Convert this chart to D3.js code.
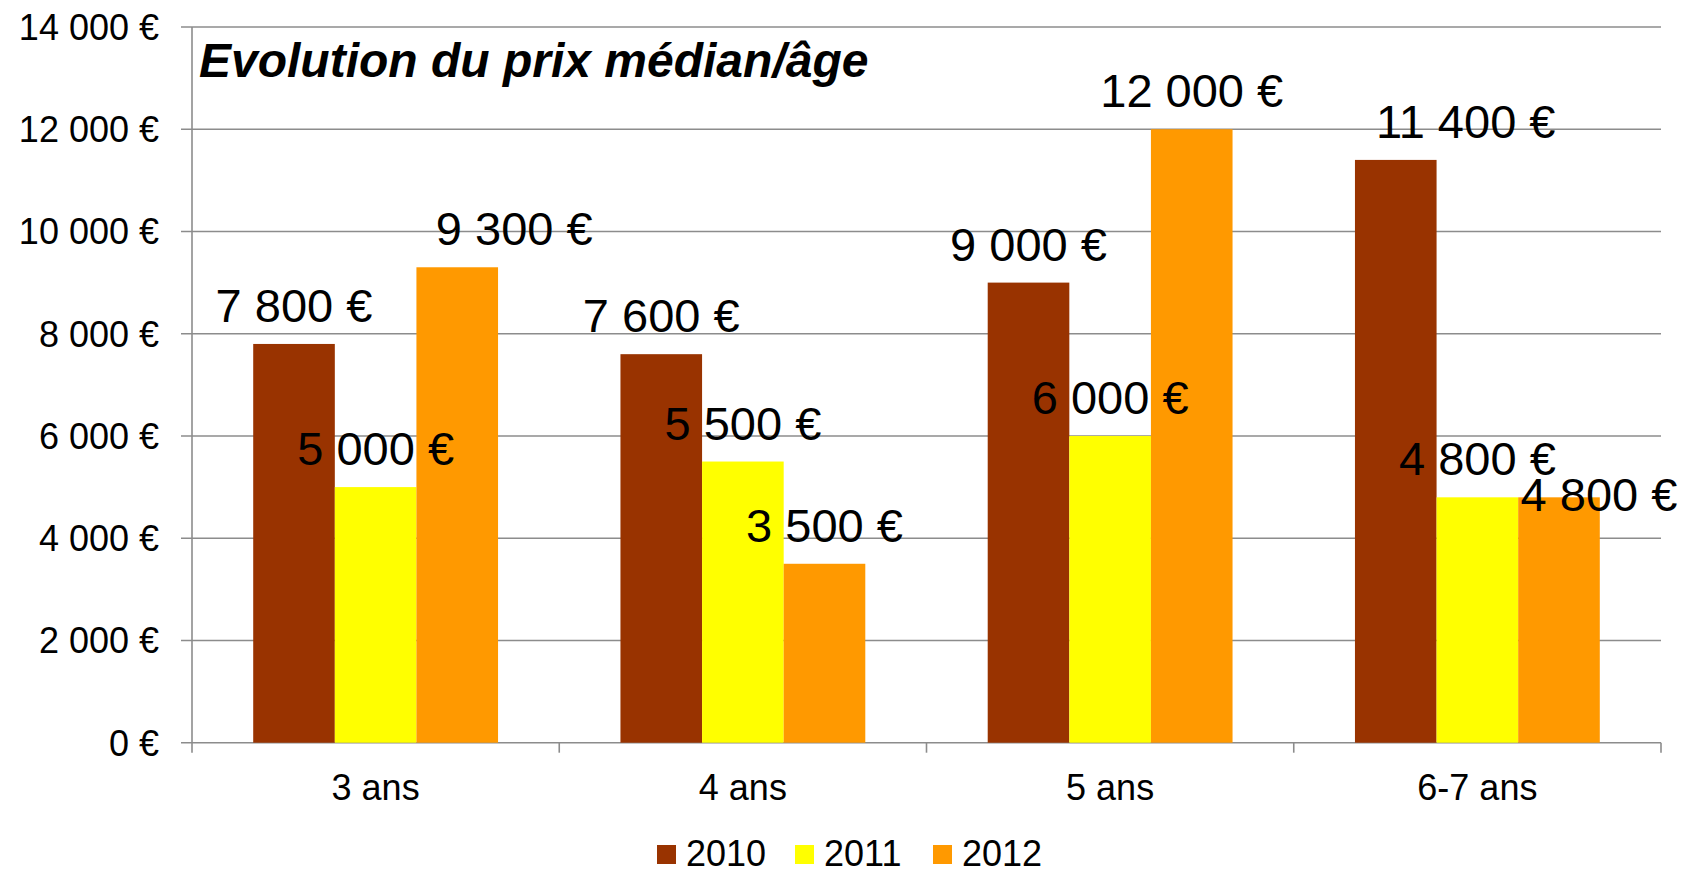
<!DOCTYPE html>
<html lang="fr">
<head>
<meta charset="utf-8">
<style>
  body { margin: 0; background: #fff; }
  svg text { font-family: "Liberation Sans", Arial, sans-serif; fill: #000; }
</style>
</head>
<body>
<div id="chart"></div>
<script src="https://d3js.org/d3.v7.min.js"></script>
<script>
// data
var categories = ["3 ans", "4 ans", "5 ans", "6-7 ans"];
var series = ["2010", "2011", "2012"];
var values2010 = [7800, 7600, 9000, 11400];
var values2011 = [5000, 5500, 6000, 4800];
var values2012 = [9300, 3500, 12000, 4800];
var yTicks = [0, 2000, 4000, 6000, 8000, 10000, 12000, 14000];
var title = "Evolution du prix médian/âge";

var colors = { "2010": "#993300", "2011": "#ffff00", "2012": "#ff9900" };
// some labels were moved by hand in the original
var labelNudge = [
  { s: "2012", c: "3 ans", dx: 57, dy: 0 },
  { s: "2010", c: "6-7 ans", dx: 70, dy: 0 },
  { s: "2012", c: "6-7 ans", dx: 40, dy: 36 }
];

var width = 1696, height = 869;
var plotLeft = 192, plotRight = 1661, plotTop = 27, plotBottom = 742.7;

var rows = categories.map(function(c, i) {
  return { cat: c, vals: [values2010[i], values2011[i], values2012[i]] };
});

var fr = d3.formatLocale({ decimal: ",", thousands: "\u00a0", grouping: [3], currency: ["", "\u00a0€"] });
var euro = fr.format("$,.0f");

var svg = d3.select("#chart").append("svg")
  .attr("width", width)
  .attr("height", height);

var x0 = d3.scaleBand().domain(categories).range([plotLeft, plotRight]).paddingInner(0).paddingOuter(0);
var x1 = d3.scaleBand().domain(series).range([0, x0.bandwidth()]).paddingInner(0).paddingOuter(0.75);
var y = d3.scaleLinear().domain([0, 14000]).range([plotBottom, plotTop]);

// gridlines
svg.append("g").selectAll("line")
  .data(yTicks)
  .enter().append("line")
  .attr("x1", plotLeft - 11).attr("x2", plotRight)
  .attr("y1", function(d) { return y(d); })
  .attr("y2", function(d) { return y(d); })
  .attr("stroke", "#8c8c8c")
  .attr("stroke-width", 1.6);

// y axis line
svg.append("line")
  .attr("x1", plotLeft).attr("x2", plotLeft)
  .attr("y1", plotTop).attr("y2", plotBottom + 10)
  .attr("stroke", "#8c8c8c").attr("stroke-width", 1.6);

// x boundary ticks
var bounds = categories.map(function(c) { return x0(c); }).concat([plotRight]);
svg.append("g").selectAll("line")
  .data(bounds.slice(1))
  .enter().append("line")
  .attr("x1", function(d) { return d; }).attr("x2", function(d) { return d; })
  .attr("y1", plotBottom).attr("y2", plotBottom + 10)
  .attr("stroke", "#8c8c8c").attr("stroke-width", 1.6);

// y tick labels
svg.append("g").selectAll("text")
  .data(yTicks)
  .enter().append("text")
  .attr("x", 159)
  .attr("y", function(d) { return y(d); })
  .attr("dy", "0.36em")
  .attr("text-anchor", "end")
  .style("font-size", "36px")
  .text(function(d) { return euro(d); });

// bars
var groups = svg.append("g").selectAll("g")
  .data(rows)
  .enter().append("g")
  .attr("transform", function(d) { return "translate(" + x0(d.cat) + ",0)"; });

groups.selectAll("rect")
  .data(function(d) { return series.map(function(s, i) { return { s: s, c: d.cat, v: d.vals[i] }; }); })
  .enter().append("rect")
  .attr("x", function(d) { return x1(d.s); })
  .attr("width", x1.bandwidth())
  .attr("y", function(d) { return y(d.v); })
  .attr("height", function(d) { return plotBottom - y(d.v); })
  .attr("fill", function(d) { return colors[d.s]; });

// data labels on top
var labels = [];
rows.forEach(function(r) {
  series.forEach(function(s, i) { labels.push({ s: s, c: r.cat, v: r.vals[i] }); });
});
function nudge(d) {
  var n = labelNudge.find(function(o) { return o.s === d.s && o.c === d.c; });
  return n || { dx: 0, dy: 0 };
}
svg.append("g").selectAll("text")
  .data(labels)
  .enter().append("text")
  .attr("x", function(d) { return x0(d.c) + x1(d.s) + x1.bandwidth() / 2 + nudge(d).dx; })
  .attr("y", function(d) { return y(d.v) - 22 + nudge(d).dy; })
  .attr("text-anchor", "middle")
  .style("font-size", "47px")
  .text(function(d) { return euro(d.v); });

// category labels
svg.append("g").selectAll("text")
  .data(categories)
  .enter().append("text")
  .attr("x", function(d) { return x0(d) + x0.bandwidth() / 2; })
  .attr("y", 800)
  .attr("text-anchor", "middle")
  .style("font-size", "36px")
  .text(function(d) { return d; });

// title
svg.append("text")
  .attr("x", 199)
  .attr("y", 77)
  .style("font-size", "48px")
  .style("font-weight", "bold")
  .style("font-style", "italic")
  .text(title);

// legend
var legend = svg.append("g").attr("transform", "translate(657,0)");
var item = legend.selectAll("g")
  .data(series)
  .enter().append("g")
  .attr("transform", function(d, i) { return "translate(" + (i * 138) + ",0)"; });
item.append("rect")
  .attr("x", 0).attr("y", 845)
  .attr("width", 19).attr("height", 19)
  .attr("fill", function(d) { return colors[d]; });
item.append("text")
  .attr("x", 29).attr("y", 866)
  .style("font-size", "36px")
  .text(function(d) { return d; });
</script>
</body>
</html>
